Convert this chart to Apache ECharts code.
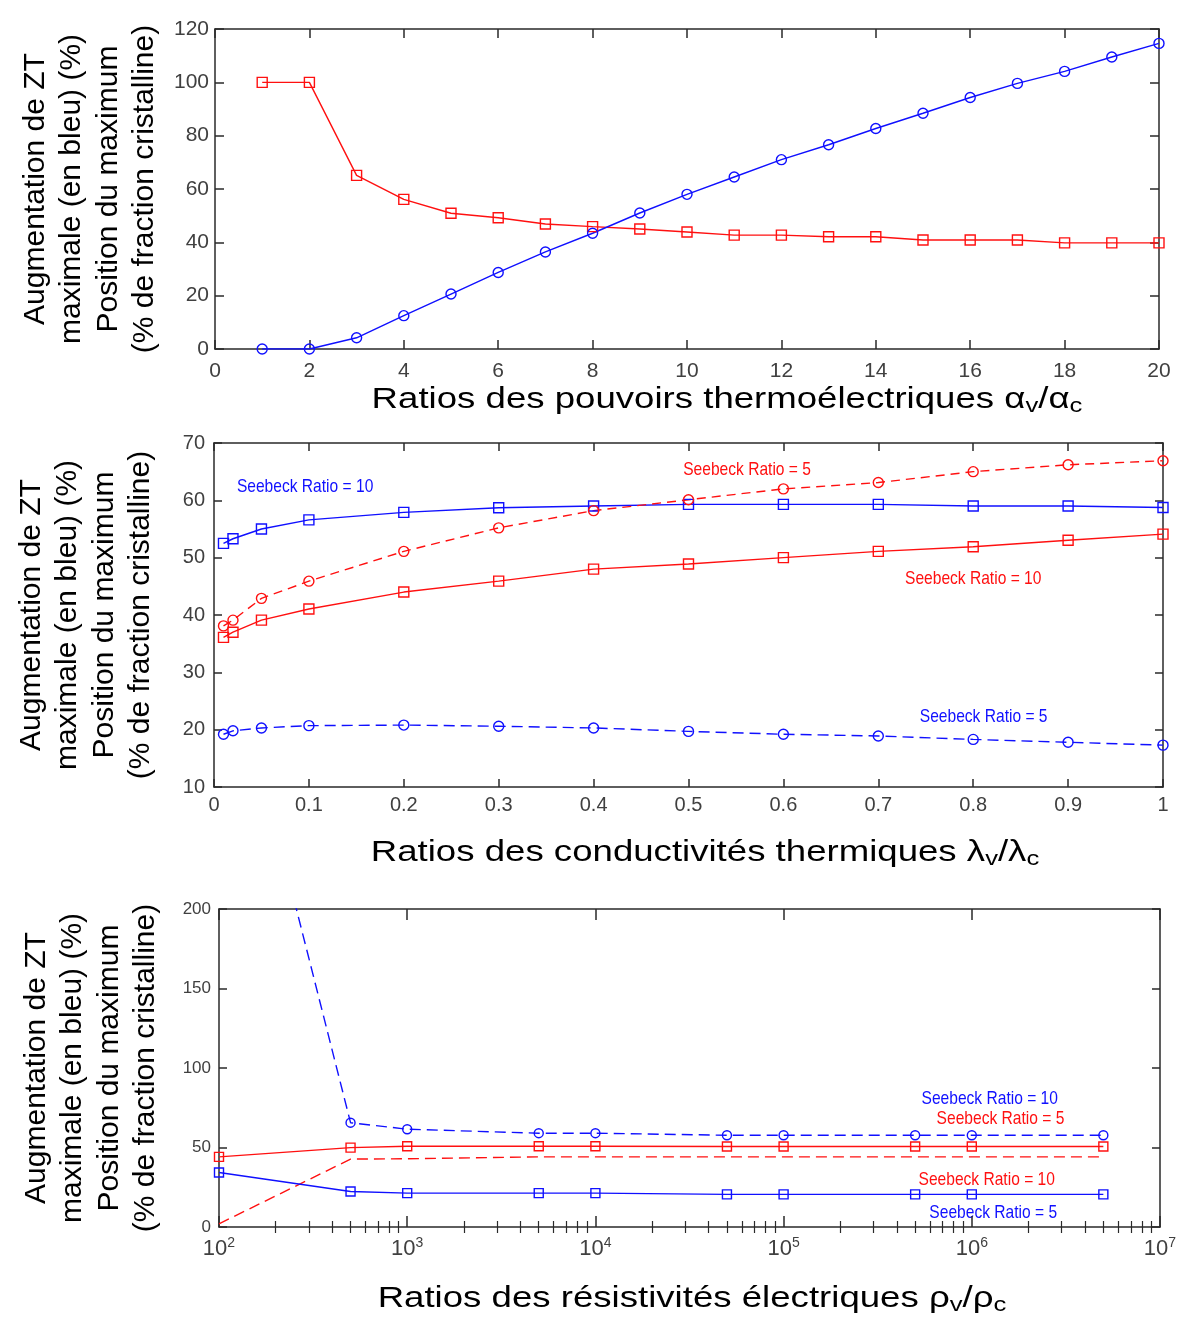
<!DOCTYPE html>
<html>
<head>
<meta charset="utf-8">
<script src="https://cdn.jsdelivr.net/npm/echarts@6/dist/echarts.min.js"></script>
<style>
html,body{margin:0;padding:0;background:#fff;}
#c{width:1180px;height:1323px;}
</style>
</head>
<body>
<div id="c"></div>
<script>
// ---------- Panel 1 : Seebeck ratio ----------
const seebeckRatios = [1,2,3,4,5,6,7,8,9,10,11,12,13,14,15,16,17,18,19,20];
const ztGain1 = [0,0,4.2,12.5,20.6,28.7,36.4,43.4,51.0,58.0,64.5,71.0,76.6,82.7,88.4,94.3,99.6,104.1,109.5,114.6];
const maxPos1 = [100,100,65.1,56.1,50.9,49.2,46.9,45.9,45.0,43.9,42.7,42.7,42.1,42.1,40.9,40.9,40.9,39.8,39.8,39.8];

// ---------- Panel 2 : thermal conductivity ratio ----------
const conductRatios = [0.01,0.02,0.05,0.1,0.2,0.3,0.4,0.5,0.6,0.7,0.8,0.9,1.0];
const ztGain2_S10 = [52.5,53.3,55.0,56.6,57.9,58.7,59.0,59.3,59.3,59.3,59.0,59.0,58.75];
const ztGain2_S5  = [19.2,19.8,20.3,20.7,20.8,20.6,20.3,19.7,19.2,18.9,18.3,17.8,17.3];
const maxPos2_S10 = [36.1,37.0,39.1,41.05,44.0,45.9,48.0,48.9,50.0,51.1,51.9,53.05,54.1];
const maxPos2_S5  = [38.1,39.1,42.9,45.9,51.1,55.2,58.2,60.1,62.0,63.1,65.0,66.2,66.9];

// ---------- Panel 3 : electrical resistivity ratio ----------
const resistRatios = [1e2,5e2,1e3,5e3,1e4,5e4,1e5,5e5,1e6,5e6];
const ztGain3_S10 = [392,65.6,61.5,59.0,59.0,57.7,57.7,57.7,57.7,57.7];
const ztGain3_S5  = [34.3,22.3,21.3,21.3,21.3,20.5,20.5,20.5,20.5,20.5];
const maxPos3_S5  = [44.1,49.9,50.8,50.8,50.8,50.6,50.6,50.6,50.6,50.6];
const maxPos3_S10 = [2,42.7,42.9,44.1,44.1,44.1,44.1,44.1,44.1,44.1];
const logMinorTicks = [200,300,400,500,600,700,800,900,2e3,3e3,4e3,5e3,6e3,7e3,8e3,9e3,
  2e4,3e4,4e4,5e4,6e4,7e4,8e4,9e4,2e5,3e5,4e5,5e5,6e5,7e5,8e5,9e5,
  2e6,3e6,4e6,5e6,6e6,7e6,8e6,9e6];

// ---------- Annotation texts ----------
const noteTexts = ['Seebeck Ratio = 10', 'Seebeck Ratio = 5'];

const RED = '#ff1010';
const BLUE = '#1010ff';
const BOX = '#2a2a2a';
const SANS = "'Liberation Sans', Arial, Helvetica, sans-serif";

const pairs = (xs, ys) => xs.map((x, i) => [x, ys[i]]);

function axisBase(extra) {
  return Object.assign({
    axisLine: {show: true, onZero: false, lineStyle: {color: BOX, width: 1.5}},
    axisTick: {show: true, inside: true, length: 9, lineStyle: {color: BOX, width: 1.5}},
    splitLine: {show: false},
    minorTick: {show: false}
  }, extra);
}
function hiddenLabels(a) { a.axisLabel = {show: false}; return a; }

function lineSeries(xi, yi, data, color, opt) {
  return Object.assign({
    type: 'line', xAxisIndex: xi, yAxisIndex: yi, data: data,
    smooth: false, clip: true, silent: true, animation: false,
    symbolSize: 10,
    lineStyle: {color: color, width: 1.4, type: 'solid'},
    itemStyle: {color: 'rgba(255,255,255,0)', borderColor: color, borderWidth: 1.4}
  }, opt);
}

const lbl1 = {fontSize: 21, color: '#404040', fontFamily: SANS};
const lbl2 = {fontSize: 20, color: '#404040', fontFamily: SANS};
const lbl3 = {fontSize: 17, color: '#404040', fontFamily: SANS};
const tick8 = {show: true, inside: true, length: 8, lineStyle: {color: BOX, width: 1.5}};
const tick11 = {show: true, inside: true, length: 11, lineStyle: {color: BOX, width: 1.5}};
const tickMinor = {show: true, inside: true, length: 6, customValues: logMinorTicks, lineStyle: {color: BOX, width: 1.2}};

const option = {
  backgroundColor: '#fff',
  animation: false,
  grid: [
    {left: 215, right: 21, top: 29, height: 320, show: false},
    {left: 214, right: 17, top: 443, height: 344, show: false},
    {left: 219, right: 20, top: 909, height: 318, show: false}
  ],
  xAxis: [
    // panel 1
    axisBase({gridIndex: 0, type: 'value', min: 0, max: 20, interval: 2, position: 'bottom',
      axisLabel: Object.assign({margin: 12}, lbl1)}),
    hiddenLabels(axisBase({gridIndex: 0, type: 'value', min: 0, max: 20, interval: 2, position: 'top'})),
    // panel 2
    axisBase({gridIndex: 1, type: 'value', min: 0, max: 1, interval: 0.1, position: 'bottom',
      axisTick: tick8, axisLabel: Object.assign({margin: 8}, lbl2)}),
    hiddenLabels(axisBase({gridIndex: 1, type: 'value', min: 0, max: 1, interval: 0.1, position: 'top', axisTick: tick8})),
    // panel 3
    axisBase({gridIndex: 2, type: 'log', logBase: 10, min: 1e2, max: 1e7, position: 'bottom',
      axisTick: tick11,
      axisLabel: {margin: 9, formatter: v => '{b|10}{s|' + Math.round(Math.log10(v)) + '}',
        rich: {b: {fontSize: 22, lineHeight: 26, color: '#404040', fontFamily: SANS},
               s: {fontSize: 14, lineHeight: 14, verticalAlign: 'top', color: '#404040', fontFamily: SANS}}}}),
    hiddenLabels(axisBase({gridIndex: 2, type: 'log', logBase: 10, min: 1e2, max: 1e7, position: 'top', axisTick: tick11})),
    hiddenLabels(axisBase({gridIndex: 2, type: 'log', logBase: 10, min: 1e2, max: 1e7, position: 'bottom',
      axisLine: {show: false}, axisTick: tickMinor})),
    hiddenLabels(axisBase({gridIndex: 2, type: 'log', logBase: 10, min: 1e2, max: 1e7, position: 'top',
      axisLine: {show: false}, axisTick: tickMinor}))
  ],
  yAxis: [
    axisBase({gridIndex: 0, type: 'value', min: 0, max: 120, interval: 20, position: 'left',
      axisLabel: Object.assign({margin: 6}, lbl1)}),
    hiddenLabels(axisBase({gridIndex: 0, type: 'value', min: 0, max: 120, interval: 20, position: 'right'})),
    axisBase({gridIndex: 1, type: 'value', min: 10, max: 70, interval: 10, position: 'left',
      axisTick: tick8, axisLabel: Object.assign({margin: 9}, lbl2)}),
    hiddenLabels(axisBase({gridIndex: 1, type: 'value', min: 10, max: 70, interval: 10, position: 'right', axisTick: tick8})),
    axisBase({gridIndex: 2, type: 'value', min: 0, max: 200, interval: 50, position: 'left',
      axisTick: tick8, axisLabel: Object.assign({margin: 8}, lbl3)}),
    hiddenLabels(axisBase({gridIndex: 2, type: 'value', min: 0, max: 200, interval: 50, position: 'right', axisTick: tick8}))
  ],
  series: [
    // panel 1
    lineSeries(0, 0, pairs(seebeckRatios, maxPos1), RED, {name: 'Position du maximum', symbol: 'rect'}),
    lineSeries(0, 0, pairs(seebeckRatios, ztGain1), BLUE, {name: 'Augmentation de ZT', symbol: 'circle'}),
    // panel 2
    lineSeries(2, 2, pairs(conductRatios, ztGain2_S10), BLUE, {name: 'ZT SR=10', symbol: 'rect'}),
    lineSeries(2, 2, pairs(conductRatios, ztGain2_S5), BLUE, {name: 'ZT SR=5', symbol: 'circle',
      lineStyle: {color: BLUE, width: 1.4, type: [11, 6]}}),
    lineSeries(2, 2, pairs(conductRatios, maxPos2_S10), RED, {name: 'Pos SR=10', symbol: 'rect'}),
    lineSeries(2, 2, pairs(conductRatios, maxPos2_S5), RED, {name: 'Pos SR=5', symbol: 'circle',
      lineStyle: {color: RED, width: 1.4, type: [9, 6]}}),
    // panel 3
    lineSeries(4, 4, pairs(resistRatios, ztGain3_S10), BLUE, {name: 'ZT SR=10', symbol: 'circle', symbolSize: 9,
      lineStyle: {color: BLUE, width: 1.4, type: [11, 6]}}),
    lineSeries(4, 4, pairs(resistRatios, maxPos3_S5), RED, {name: 'Pos SR=5', symbol: 'rect', symbolSize: 9}),
    lineSeries(4, 4, pairs(resistRatios, maxPos3_S10), RED, {name: 'Pos SR=10', symbol: 'none',
      lineStyle: {color: RED, width: 1.4, type: [11, 6]}}),
    lineSeries(4, 4, pairs(resistRatios, ztGain3_S5), BLUE, {name: 'ZT SR=5', symbol: 'rect', symbolSize: 9})
  ]
};

function yTitle(cx, cy) {
  return {
    type: 'text', x: cx, y: cy, rotation: Math.PI / 2, silent: true,
    style: {
      text: 'Augmentation de ZT\nmaximale (en bleu) (%)\nPosition du maximum\n(% de fraction cristalline)',
      font: '30px ' + SANS, fill: '#000', align: 'center', verticalAlign: 'middle', lineHeight: 36.5
    }
  };
}
function xTitle(cx, cy, main, greek) {
  return {
    type: 'text', x: cx, y: cy, scaleX: 1.22, silent: true,
    style: {
      text: '{a|' + main + '}{s|v}{a|/' + greek + '}{s|c}',
      align: 'center', verticalAlign: 'middle',
      rich: {
        a: {fontSize: 30, lineHeight: 34, fontFamily: SANS, fill: '#000', color: '#000'},
        s: {fontSize: 21, lineHeight: 18, verticalAlign: 'bottom', fontFamily: SANS, fill: '#000', color: '#000'}
      }
    }
  };
}

const chart = echarts.init(document.getElementById('c'), null, {renderer: 'canvas'});
chart.setOption(option);

// annotations placed in data coordinates, converted through the chart's axes
const notes = [
  {axes: {xAxisIndex: 2, yAxisIndex: 2}, at: [0.096, 62.4], text: noteTexts[0], color: BLUE},
  {axes: {xAxisIndex: 2, yAxisIndex: 2}, at: [0.5617, 65.3], text: noteTexts[1], color: RED},
  {axes: {xAxisIndex: 2, yAxisIndex: 2}, at: [0.80, 46.3], text: noteTexts[0], color: RED},
  {axes: {xAxisIndex: 2, yAxisIndex: 2}, at: [0.811, 22.2], text: noteTexts[1], color: BLUE},
  {axes: {xAxisIndex: 4, yAxisIndex: 4}, at: [1.245e6, 80.6], text: noteTexts[0], color: BLUE},
  {axes: {xAxisIndex: 4, yAxisIndex: 4}, at: [1.42e6, 67.9], text: noteTexts[1], color: RED},
  {axes: {xAxisIndex: 4, yAxisIndex: 4}, at: [1.2e6, 29.7], text: noteTexts[0], color: RED},
  {axes: {xAxisIndex: 4, yAxisIndex: 4}, at: [1.3e6, 9.2], text: noteTexts[1], color: BLUE}
];
const noteGraphics = notes.map(n => {
  const p = chart.convertToPixel(n.axes, n.at);
  return {
    type: 'text', x: p[0], y: p[1], scaleX: 0.82, silent: true,
    style: {text: n.text, font: '19px ' + SANS, fill: n.color, align: 'center', verticalAlign: 'middle'}
  };
});

chart.setOption({
  graphic: [
    yTitle(90, 189), yTitle(86, 615), yTitle(91, 1068),
    xTitle(727, 400, 'Ratios des pouvoirs thermoélectriques α', 'α'),
    xTitle(705, 853, 'Ratios des conductivités thermiques λ', 'λ'),
    xTitle(692, 1299, 'Ratios des résistivités électriques ρ', 'ρ')
  ].concat(noteGraphics)
});
</script>
</body>
</html>
